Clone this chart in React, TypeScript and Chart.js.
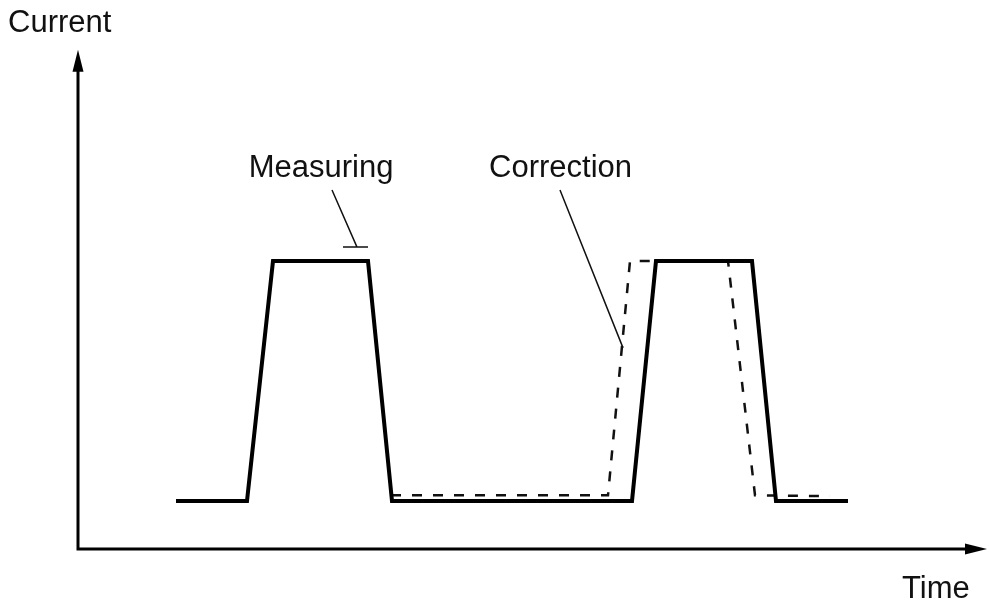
import React, { useEffect, useRef } from "react";
import { Chart, registerables } from "chart.js";

Chart.register(...registerables);

// Time (arbitrary units) and current (arbitrary units)
const timeMeasured = [9.8, 16.9, 19.5, 29.0, 31.4, 55.4, 57.8, 67.4, 69.8, 77.0];
const currentMeasured = [1, 1, 6, 6, 1, 1, 6, 6, 1, 1];

const timeCorrection = [31.3, 53.0, 55.2, 65.0, 67.7, 75.2];
const currentCorrection = [1.12, 1.12, 6, 6, 1.12, 1.1];

const axisLabels = { y: "Current", x: "Time" };
const annotationLabels = ["Measuring", "Correction"];

const FONT = '31px "Liberation Sans", Arial, Helvetica, sans-serif';

const overlayPlugin = {
  id: "overlay",
  beforeDatasetsDraw(chart: any) {
    const ctx = chart.ctx;
    const xs = chart.scales.x;
    const ys = chart.scales.y;
    const px = (v: number) => xs.getPixelForValue(v);
    const py = (v: number) => ys.getPixelForValue(v);
    ctx.save();
    ctx.strokeStyle = "#000";
    ctx.fillStyle = "#000";
    ctx.lineWidth = 3;
    const ox = px(0);
    const oy = py(0);
    const yTip = py(10.4);
    const xTip = px(90.9);
    ctx.beginPath();
    ctx.moveTo(ox, yTip + 15);
    ctx.lineTo(ox, oy);
    ctx.lineTo(xTip - 15, oy);
    ctx.stroke();
    // arrowheads
    ctx.beginPath();
    ctx.moveTo(ox, yTip);
    ctx.lineTo(ox - 5.5, yTip + 22);
    ctx.lineTo(ox + 5.5, yTip + 22);
    ctx.closePath();
    ctx.fill();
    ctx.beginPath();
    ctx.moveTo(xTip, oy);
    ctx.lineTo(xTip - 22, oy - 5.5);
    ctx.lineTo(xTip - 22, oy + 5.5);
    ctx.closePath();
    ctx.fill();
    ctx.restore();
  },
  afterDatasetsDraw(chart: any) {
    const ctx = chart.ctx;
    const xs = chart.scales.x;
    const ys = chart.scales.y;
    const px = (v: number) => xs.getPixelForValue(v);
    const py = (v: number) => ys.getPixelForValue(v);
    ctx.save();
    ctx.fillStyle = "#111";
    ctx.font = FONT;
    ctx.textBaseline = "alphabetic";
    ctx.textAlign = "left";
    ctx.fillText(axisLabels.y, px(-7.0), py(10.77));
    ctx.fillText(axisLabels.x, px(82.4), py(-1.02));
    ctx.textAlign = "center";
    ctx.fillText(annotationLabels[0], px(24.3), py(7.75));
    ctx.fillText(annotationLabels[1], px(48.25), py(7.75));
    // leader lines
    ctx.strokeStyle = "#111";
    ctx.lineWidth = 1.5;
    ctx.beginPath();
    ctx.moveTo(px(25.4), py(7.48));
    ctx.lineTo(px(27.9), py(6.29));
    ctx.moveTo(px(26.5), py(6.29));
    ctx.lineTo(px(29.0), py(6.29));
    ctx.moveTo(px(48.2), py(7.48));
    ctx.lineTo(px(54.5), py(4.19));
    ctx.stroke();
    ctx.restore();
  },
};

export default function App() {
  const ref = useRef<HTMLCanvasElement | null>(null);
  useEffect(() => {
    if (!ref.current) return;
    const chart = new Chart(ref.current, {
      type: "line",
      data: {
        datasets: [
          {
            label: "Measured",
            data: timeMeasured.map((t, i) => ({ x: t, y: currentMeasured[i] })),
            borderColor: "#000",
            borderWidth: 4,
            pointRadius: 0,
            tension: 0,
            fill: false,
            borderJoinStyle: "miter",
          },
          {
            label: "Correction",
            data: timeCorrection.map((t, i) => ({ x: t, y: currentCorrection[i] })),
            borderColor: "#111",
            borderWidth: 2.5,
            borderDash: [10, 11],
            pointRadius: 0,
            tension: 0,
            fill: false,
          },
        ],
      },
      options: {
        animation: false,
        responsive: false,
        devicePixelRatio: 1,
        layout: { padding: 0 },
        plugins: { legend: { display: false }, tooltip: { enabled: false } },
        events: [],
        scales: {
          x: { type: "linear", display: false, min: -7.8, max: 91.1 },
          y: { type: "linear", display: false, min: -1.125, max: 11.4375 },
        },
      },
      plugins: [overlayPlugin],
    });
    return () => chart.destroy();
  }, []);
  return (
    <div style={{ position: "fixed", left: 0, top: 0, width: 989, height: 603, background: "#fff" }}>
      <canvas ref={ref} width={989} height={603} style={{ display: "block" }} />
    </div>
  );
}
